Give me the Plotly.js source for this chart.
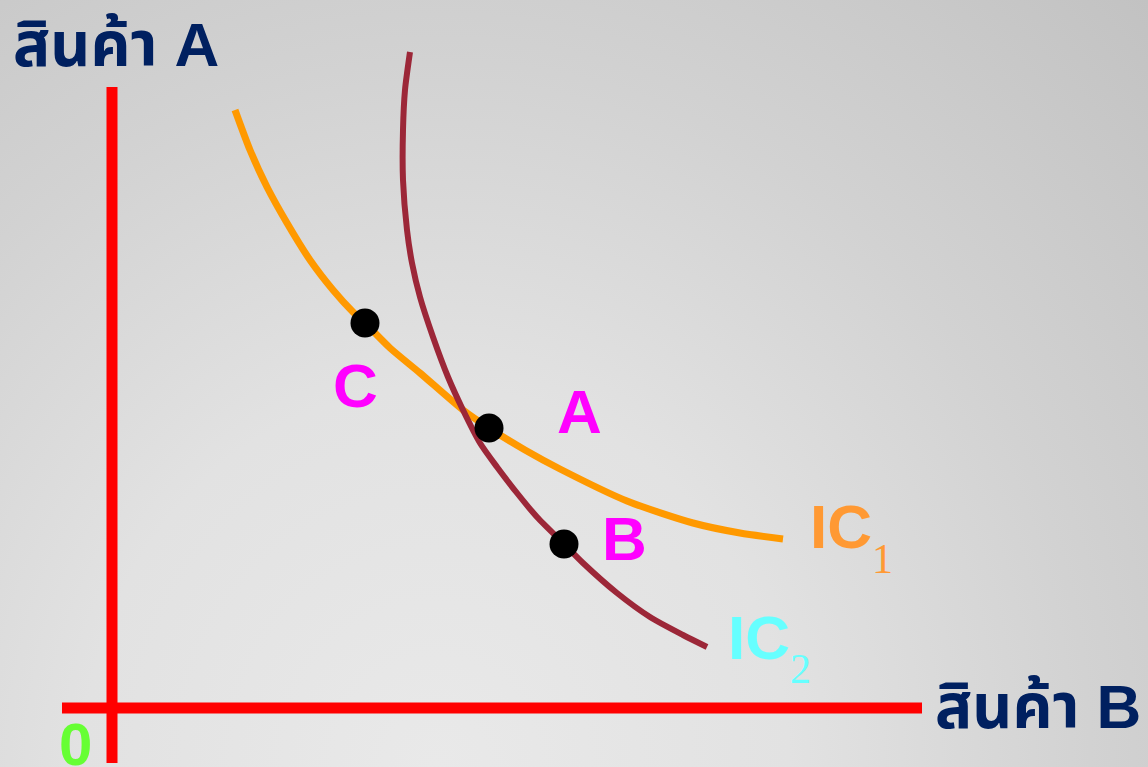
<!DOCTYPE html>
<html>
<head>
<meta charset="utf-8">
<script src="https://cdn.plot.ly/plotly-3.0.1.min.js"></script>
<style>
  html, body { margin: 0; padding: 0; }
  body {
    width: 1148px; height: 767px; overflow: hidden;
    background: radial-gradient(ellipse farthest-corner at 38% 100%, #e9e9e9 0%, #e2e2e2 35%, #d2d2d2 65%, #c2c2c2 100%);
  }
  #chart { width: 1148px; height: 767px; }
</style>
</head>
<body>
<div id="chart"></div>
<script>
// Indifference curve IC1 (orange)
const ic1X = [1.23, 1.38, 1.55, 1.75, 1.98, 2.21, 2.41, 2.53, 2.78, 3.08, 3.51, 3.77, 4.13, 4.48, 5.15, 5.81, 6.28, 6.71];
const ic1Y = [5.98, 5.58, 5.21, 4.85, 4.48, 4.18, 3.96, 3.85, 3.60, 3.35, 2.98, 2.80, 2.58, 2.39, 2.07, 1.85, 1.75, 1.69];
// Indifference curve IC2 (dark red)
const ic2X = [2.98, 2.93, 2.91, 2.91, 2.95, 3.00, 3.08, 3.21, 3.36, 3.51, 3.68, 3.85, 4.05, 4.25, 4.52, 4.71, 5.05, 5.38, 5.71, 5.95];
const ic2Y = [6.56, 6.18, 5.78, 5.28, 4.78, 4.45, 4.11, 3.71, 3.31, 2.98, 2.65, 2.41, 2.15, 1.91, 1.64, 1.45, 1.15, 0.91, 0.73, 0.61];
// Bundles
const pointNames = ["C", "A", "B"];
const pointX = [2.53, 3.77, 4.52];
const pointY = [3.85, 2.80, 1.64];
const pointLabelX = [2.43, 4.67, 5.12];
const pointLabelY = [3.23, 2.97, 1.70];
// Axes extents
const yAxisLineX = [0, 0];
const yAxisLineY = [6.21, -0.55];
const xAxisLineX = [-0.50, 8.10];
const xAxisLineY = [0, 0];
// Text labels
const yAxisLabel = "สินค้า A";
const xAxisLabel = "สินค้า B";
const originLabel = "0";
const curveNames = ["IC", "IC"];
const curveSubs = ["1", "2"];
const curveLabelX = [7.29, 6.47];
const curveLabelY = [1.82, 0.71];
const curveSubX = [7.70, 6.88];
const curveSubY = [1.49, 0.39];
const curveColors = ["#ff9933", "#66ffff"];

const sans = "'Liberation Sans', Arial, 'Noto Sans', 'Noto Sans Thai', sans-serif";
const serif = "'Liberation Serif', 'Times New Roman', serif";

const traces = [
  { x: yAxisLineX, y: yAxisLineY, mode: "lines", line: { color: "#ff0000", width: 11 }, hoverinfo: "skip" },
  { x: xAxisLineX, y: xAxisLineY, mode: "lines", line: { color: "#ff0000", width: 11 }, hoverinfo: "skip" },
  { x: ic1X, y: ic1Y, mode: "lines", line: { color: "#ff9900", width: 7, shape: "spline", smoothing: 0.7 }, hoverinfo: "skip" },
  { x: ic2X, y: ic2Y, mode: "lines", line: { color: "#9c2738", width: 6, shape: "spline", smoothing: 0.7 }, hoverinfo: "skip" },
  { x: pointX, y: pointY, mode: "markers", marker: { color: "#000000", size: 29 }, hoverinfo: "skip" }
];

const annotations = [];
annotations.push({ x: 0.04, y: 6.64, text: "<b>" + yAxisLabel + "</b>", showarrow: false, xanchor: "center", yanchor: "middle", font: { family: sans, size: 62, color: "#002060" } });
annotations.push({ x: 9.26, y: 0.02, text: "<b>" + xAxisLabel + "</b>", showarrow: false, xanchor: "center", yanchor: "middle", font: { family: sans, size: 62, color: "#002060" } });
annotations.push({ x: -0.37, y: -0.36, text: "<b>" + originLabel + "</b>", showarrow: false, xanchor: "center", yanchor: "middle", font: { family: sans, size: 60, color: "#66ff33" } });
pointNames.forEach((n, i) => {
  annotations.push({ x: pointLabelX[i], y: pointLabelY[i], text: "<b>" + n + "</b>", showarrow: false, xanchor: "center", yanchor: "middle", font: { family: sans, size: 62, color: "#ff00ff" } });
});
curveNames.forEach((n, i) => {
  annotations.push({ x: curveLabelX[i], y: curveLabelY[i], text: "<b>" + n + "</b>", showarrow: false, xanchor: "center", yanchor: "middle", font: { family: sans, size: 62, color: curveColors[i] } });
  annotations.push({ x: curveSubX[i], y: curveSubY[i], text: curveSubs[i], showarrow: false, xanchor: "center", yanchor: "middle", font: { family: serif, size: 42, color: curveColors[i] } });
});

const layout = {
  width: 1148, height: 767,
  margin: { l: 0, r: 0, t: 0, b: 0, pad: 0 },
  paper_bgcolor: "rgba(0,0,0,0)",
  plot_bgcolor: "rgba(0,0,0,0)",
  showlegend: false,
  xaxis: { range: [-1.12, 10.36], visible: false, showgrid: false, zeroline: false, fixedrange: true },
  yaxis: { range: [-0.59, 7.08], visible: false, showgrid: false, zeroline: false, fixedrange: true },
  annotations: annotations
};

Plotly.newPlot("chart", traces, layout, { staticPlot: true, displayModeBar: false });
</script>
</body>
</html>
